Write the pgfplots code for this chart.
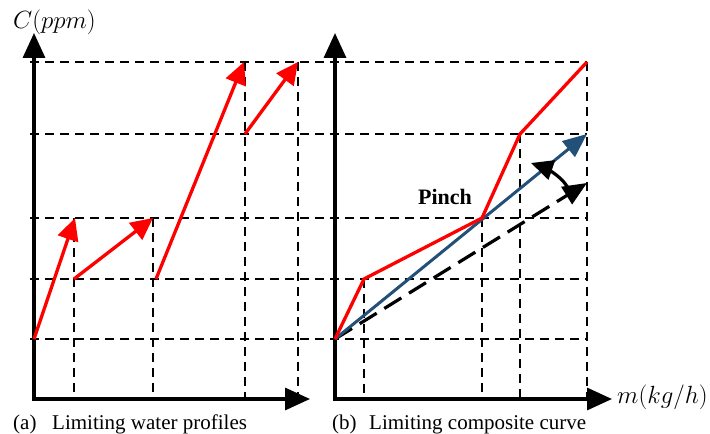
\documentclass[border=0pt]{standalone}
\usepackage{fontspec}
\setmainfont{Liberation Serif}
\usepackage{pgfplots}
\pgfplotsset{compat=1.18}
\usetikzlibrary{arrows.meta}
\definecolor{pblue}{RGB}{35,80,120}
\definecolor{pred}{RGB}{255,0,0}
\tikzset{
  gridl/.style={black,line width=2.4pt,dash pattern=on 9pt off 6pt},
  axl/.style={black,line width=3.4pt,-{Triangle[length=25pt,width=22pt]}},
  redarr/.style={pred,line width=3.3pt,-{Triangle[length=22pt,width=21pt]}},
  lbl/.style={inner sep=0pt,font=\fontsize{21}{25}\selectfont},
  mlbl/.style={inner sep=0pt,font=\fontsize{24.88}{28}\selectfont}
}
\begin{document}
\begin{tikzpicture}
\begin{axis}[x=1pt,y=1pt,xmin=0,xmax=710,ymin=0,ymax=434,hide axis,clip=false,scale only axis]
% horizontal dashed grid (shared by both panels)
\addplot[gridl] coordinates {(30,372)(587,372)};
\addplot[gridl] coordinates {(30,300)(587,300)};
\addplot[gridl] coordinates {(30,216)(587,216)};
\addplot[gridl] coordinates {(30,155)(587,155)};
\addplot[gridl] coordinates {(30,95)(587,95)};
% vertical dashed, left panel
\addplot[gridl] coordinates {(74,216)(74,35)};
\addplot[gridl] coordinates {(153,216)(153,35)};
\addplot[gridl] coordinates {(245,372)(245,35)};
\addplot[gridl] coordinates {(298,372)(298,35)};
% vertical dashed, right panel
\addplot[gridl] coordinates {(364,155)(364,35)};
\addplot[gridl] coordinates {(482,216)(482,35)};
\addplot[gridl] coordinates {(520,300)(520,35)};
\addplot[gridl] coordinates {(587,372)(587,35)};
% axes
\addplot[axl] coordinates {(34,35)(34,401)};
\addplot[axl] coordinates {(32.3,35)(310,35)};
\addplot[axl] coordinates {(335,35)(335,401)};
\addplot[axl] coordinates {(333.3,35)(612,35)};
% left panel red arrows
\addplot[redarr] coordinates {(34,95)(75,216)};
\addplot[redarr] coordinates {(74,155)(153,216)};
\addplot[redarr] coordinates {(156,155)(244,372)};
\addplot[redarr] coordinates {(245,300)(298,372)};
% right panel
\addplot[black,line width=3.2pt,dash pattern=on 20pt off 9pt,-{Triangle[length=24pt,width=20pt]}] coordinates {(335,95)(587,251)};
\addplot[pblue,line width=3pt,-{Triangle[length=24pt,width=20pt]}] coordinates {(335,95)(587,300)};
\addplot[pred,line width=3.3pt] coordinates {(335,95)(364,155)(482,216)(520,300)(587,372)};
\addplot[black,line width=3.2pt,smooth,-{Triangle[length=22pt,width=20pt]}] coordinates {(571,242)(562,254)(549,264)(531,271)};
% texts
\node[mlbl,anchor=base west] at (axis cs:13,405) {$C(ppm)$};
\node[mlbl,anchor=base west] at (axis cs:617,30) {$m(kg/h)$};
\node[lbl,font=\fontsize{22}{26}\selectfont\bfseries,anchor=center] at (axis cs:445,237) {Pinch};
\node[lbl,anchor=base west] at (axis cs:13,5) {(a)};
\node[lbl,anchor=base west] at (axis cs:52,5) {Limiting water profiles};
\node[lbl,anchor=base west] at (axis cs:332,5) {(b)};
\node[lbl,anchor=base west] at (axis cs:369,5) {Limiting composite curve};
\coordinate (SW) at (axis cs:0,0);
\coordinate (NE) at (axis cs:710,434);
\end{axis}
\pgfresetboundingbox
\path[use as bounding box] (SW) rectangle (NE);
\end{tikzpicture}
\end{document}
